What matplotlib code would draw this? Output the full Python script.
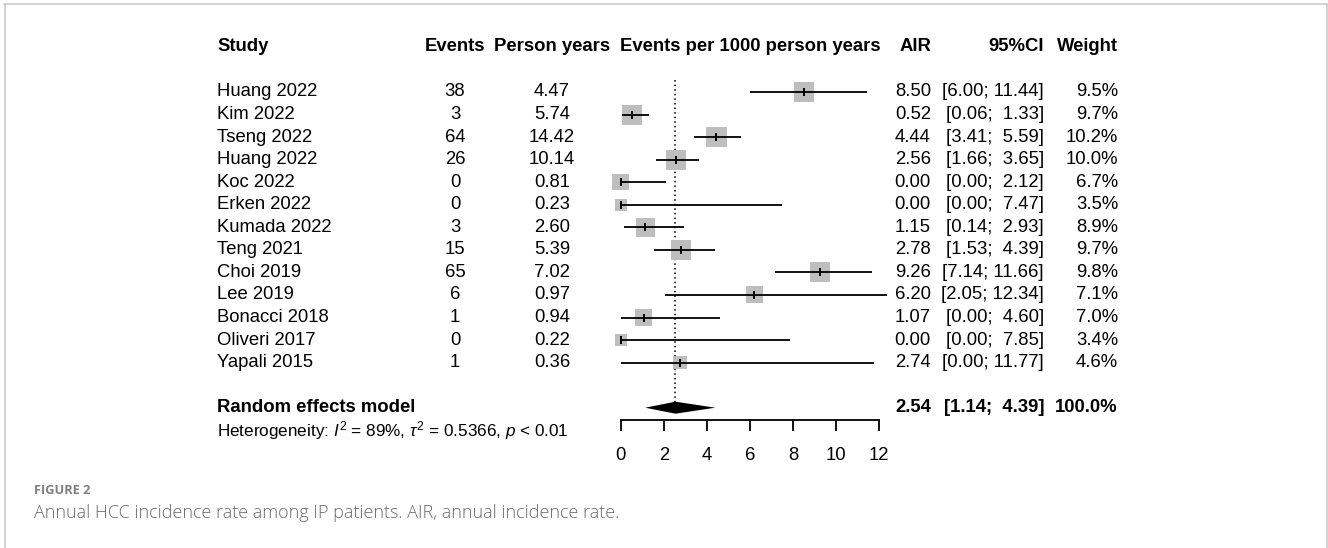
import numpy as np
import matplotlib
matplotlib.use("Agg")
import matplotlib.pyplot as plt
from matplotlib.transforms import blended_transform_factory
from matplotlib.lines import Line2D

# ---------------- data ----------------
studies = ["Huang 2022", "Kim 2022", "Tseng 2022", "Huang 2022", "Koc 2022",
           "Erken 2022", "Kumada 2022", "Teng 2021", "Choi 2019", "Lee 2019",
           "Bonacci 2018", "Oliveri 2017", "Yapali 2015"]
events = [38, 3, 64, 26, 0, 0, 3, 15, 65, 6, 1, 0, 1]
person_years = ["4.47", "5.74", "14.42", "10.14", "0.81", "0.23", "2.60",
                "5.39", "7.02", "0.97", "0.94", "0.22", "0.36"]
air = [8.50, 0.52, 4.44, 2.56, 0.00, 0.00, 1.15, 2.78, 9.26, 6.20, 1.07, 0.00, 2.74]
ci_lo = [6.00, 0.06, 3.41, 1.66, 0.00, 0.00, 0.14, 1.53, 7.14, 2.05, 0.00, 0.00, 0.00]
ci_hi = [11.44, 1.33, 5.59, 3.65, 2.12, 7.47, 2.93, 4.39, 11.66, 12.34, 4.60, 7.85, 11.77]
weights = [9.5, 9.7, 10.2, 10.0, 6.7, 3.5, 8.9, 9.7, 9.8, 7.1, 7.0, 3.4, 4.6]
pooled_air = 2.54
pooled_lo = 1.14
pooled_hi = 4.39
pooled_weight = 100.0
x_ticks = [0, 2, 4, 6, 8, 10, 12]
headers = ["Study", "Events", "Person years", "Events per 1000 person years",
           "AIR", "95%CI", "Weight"]
model_label = "Random effects model"
hetero_label = r"Heterogeneity: $I^2$ = 89%, $\tau^2$ = 0.5366, $p$ < 0.01"
fig_label = "FIGURE 2"
caption = "Annual HCC incidence rate among IP patients. AIR, annual incidence rate."

# ---------------- style ----------------
plt.rcParams["font.family"] = ["Liberation Sans", "DejaVu Sans"]
plt.rcParams["mathtext.fontset"] = "custom"
plt.rcParams["mathtext.rm"] = "Liberation Sans"
plt.rcParams["mathtext.it"] = "Liberation Sans:italic"
plt.rcParams["mathtext.bf"] = "Liberation Sans:bold"

W, H = 1328, 548
FS = 13.3
fig = plt.figure(figsize=(W / 100, H / 100), dpi=100)

row_px0 = 69.45
row_h = 22.55
axis_px = 420.0
x0_px, x1_px = 620.7, 879.3

ax = fig.add_axes([x0_px / W, 1 - axis_px / H, (x1_px - x0_px) / W, (axis_px - row_px0) / H])
ax.set_xlim(0, 12)
ax.set_ylim((axis_px - row_px0) / row_h, 0)
ax.patch.set_visible(False)

n = len(studies)
rows = np.arange(1, n + 1)

# squares (area proportional to weight)
ax.scatter(air, rows, s=21.2 * np.array(weights), marker="s", color="#bebebe",
           linewidths=0, zorder=1, clip_on=False)
# confidence intervals
ax.hlines(rows, ci_lo, ci_hi, color="black", lw=1.3, zorder=2, clip_on=False)
# point estimate ticks
ax.plot(air, rows, linestyle="none", marker="|", markersize=5.5, mew=1.4,
        color="black", zorder=3, clip_on=False)

# pooled diamond
r_model = n + 2
d = 6.0 / row_h
ax.fill([pooled_lo, pooled_air, pooled_hi, pooled_air],
        [r_model, r_model - d, r_model, r_model + d], color="black", lw=0, zorder=3)
# dotted reference line
ax.vlines(pooled_air, 0.47, r_model - d, color="black", lw=1.1,
          linestyles=(0, (1, 2)), zorder=0)

# axis
for s in ["top", "left", "right"]:
    ax.spines[s].set_visible(False)
ax.spines["bottom"].set_linewidth(1.3)
ax.spines["bottom"].set_bounds(0, 12)
ax.set_yticks([])
ax.set_xticks(x_ticks)
ax.set_xticklabels([str(t) for t in x_ticks])
ax.tick_params(axis="x", length=8, width=1.3, labelsize=FS, pad=11.5, direction="out")

# ---------------- text columns ----------------
tr = blended_transform_factory(fig.transFigure, ax.transData)

def fx(px):
    return px / W

col_study = fx(217)
col_events = fx(455)
col_py = fx(552)
col_plot = fx((x0_px + x1_px) / 2)
col_air = fx(931)
col_ci = fx(1044)
col_w = fx(1118)

r_head = -1
kw = dict(transform=tr, va="center", fontsize=FS, clip_on=False)
ax.text(col_study, r_head, headers[0], ha="left", fontweight="bold", **kw)
ax.text(col_events, r_head, headers[1], ha="center", fontweight="bold", **kw)
ax.text(col_py, r_head, headers[2], ha="center", fontweight="bold", **kw)
ax.text(col_plot, r_head, headers[3], ha="center", fontweight="bold", **kw)
ax.text(col_air, r_head, headers[4], ha="right", fontweight="bold", **kw)
ax.text(col_ci, r_head, headers[5], ha="right", fontweight="bold", **kw)
ax.text(col_w, r_head, headers[6], ha="right", fontweight="bold", **kw)

def ci_str(lo, hi):
    hs = "{:.2f}".format(hi)
    sep = "; " if len(hs) >= 5 else ";  "
    return "[{:.2f}{}{}]".format(lo, sep, hs)

for i in range(n):
    r = rows[i]
    ax.text(col_study, r, studies[i], ha="left", **kw)
    ax.text(col_events, r, str(events[i]), ha="center", **kw)
    ax.text(col_py, r, person_years[i], ha="center", **kw)
    ax.text(col_air, r, "{:.2f}".format(air[i]), ha="right", **kw)
    ax.text(col_ci, r, ci_str(ci_lo[i], ci_hi[i]), ha="right", **kw)
    ax.text(col_w, r, "{:.1f}%".format(weights[i]), ha="right", **kw)

ax.text(col_study, r_model, model_label, ha="left", fontweight="bold", **kw)
ax.text(col_air, r_model, "{:.2f}".format(pooled_air), ha="right", fontweight="bold", **kw)
ax.text(col_ci, r_model, ci_str(pooled_lo, pooled_hi), ha="right", fontweight="bold", **kw)
ax.text(col_w, r_model, "{:.1f}%".format(pooled_weight), ha="right", fontweight="bold", **kw)
ax.text(col_study, r_model + 1, hetero_label, ha="left", transform=tr, va="center",
        fontsize=12.3, clip_on=False)

# ---------------- caption & frame ----------------
fig.text(fx(34), 1 - 490 / H, fig_label, ha="left", va="center", fontsize=9.2,
         fontweight="bold", color="#7f7f7f", family=["Open Sans", "DejaVu Sans"])
fig.text(fx(34), 1 - 513 / H, caption, ha="left", va="center", fontsize=13,
         fontweight="light", color="#6b6b6b", family=["Open Sans", "DejaVu Sans"])

bc = "#cccccc"
fig.add_artist(Line2D([fx(4), fx(1327)], [1 - 4 / H, 1 - 4 / H], color=bc, lw=1.2,
                      transform=fig.transFigure))
fig.add_artist(Line2D([fx(4.5), fx(4.5)], [0, 1 - 4 / H], color=bc, lw=1.2,
                      transform=fig.transFigure))
fig.add_artist(Line2D([fx(1327), fx(1327)], [0, 1 - 4 / H], color=bc, lw=1.2,
                      transform=fig.transFigure))

fig.savefig("out.png", dpi=100)
